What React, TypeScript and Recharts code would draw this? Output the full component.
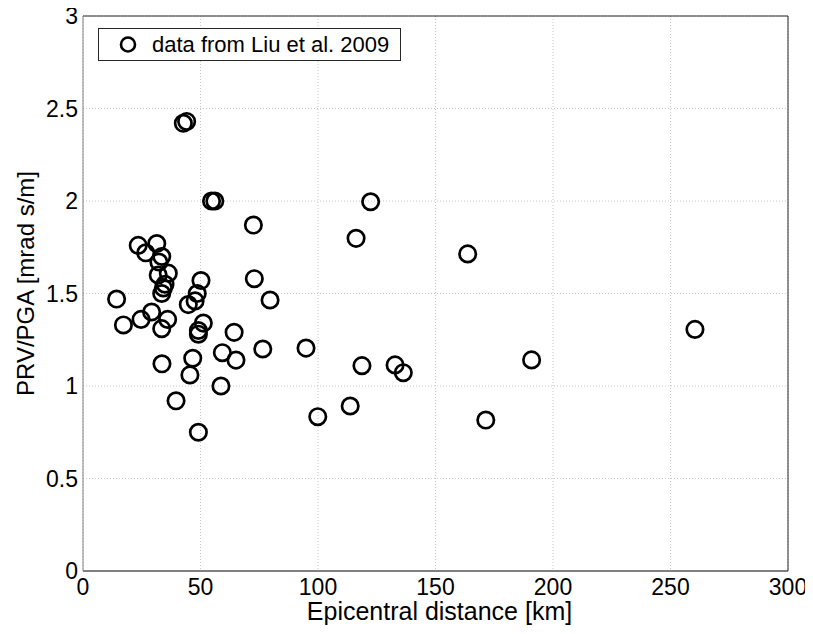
import React from 'react';
import { ScatterChart, Scatter, XAxis, YAxis, CartesianGrid, Legend } from 'recharts';

const distanceKm = [
  14.3, 17.2, 23.5, 24.7, 26.7, 29.2, 31.4, 32.0, 32.3, 33.5,
  33.5, 34.2, 34.9, 36.3, 36.0, 33.5, 33.6, 39.6, 42.7, 44.1,
  44.8, 45.5, 46.7, 47.7, 48.6, 49.1, 49.1, 49.1, 50.2, 51.2,
  54.7, 56.1, 58.7, 59.3, 64.3, 65.1, 72.5, 72.9, 76.5, 79.6,
  94.9, 99.9, 113.7, 116.2, 118.7, 122.4, 132.8, 136.3, 163.7, 171.4,
  190.9, 260.4,
];
const prvPga = [
  1.47, 1.33, 1.76, 1.36, 1.72, 1.40, 1.77, 1.60, 1.67, 1.70,
  1.50, 1.53, 1.55, 1.61, 1.36, 1.31, 1.12, 0.92, 2.42, 2.43,
  1.44, 1.06, 1.15, 1.46, 1.50, 1.30, 1.28, 0.75, 1.57, 1.34,
  2.00, 2.00, 1.00, 1.18, 1.29, 1.14, 1.87, 1.58, 1.20, 1.465,
  1.205, 0.834, 0.892, 1.798, 1.11, 1.996, 1.114, 1.072, 1.714, 0.816,
  1.141, 1.306,
];
const xTicks = [0, 50, 100, 150, 200, 250, 300];
const yTicks = [0, 0.5, 1, 1.5, 2, 2.5, 3];
const seriesName = 'data from Liu et al. 2009';
const xLabel = 'Epicentral distance [km]';
const yLabel = 'PRV/PGA [mrad s/m]';

const data = distanceKm.map((d, i) => ({ x: d, y: prvPga[i] }));

const FONT = '"Liberation Sans", Arial, Helvetica, sans-serif';
const DARK = '#262626';
const GRAY = '#808080';

const Ring = (props: any) => {
  const { cx, cy } = props;
  if (cx == null || cy == null) return <g />;
  return <circle cx={cx} cy={cy} r={8.2} fill="none" stroke="#000" strokeWidth={2.7} />;
};

const Empty = () => <g />;

const XTick = (props: any) => {
  const { x, y, payload } = props;
  return (
    <text x={x} y={y} textAnchor="middle" dominantBaseline="hanging" fontSize={23} fontFamily={FONT} fill="#000">
      {payload.value}
    </text>
  );
};

const YTick = (props: any) => {
  const { x, y, payload } = props;
  return (
    <text x={x} y={y} textAnchor="end" dominantBaseline="central" fontSize={23} fontFamily={FONT} fill="#000">
      {payload.value}
    </text>
  );
};

const LegendBox = () => (
  <div
    style={{
      boxSizing: 'border-box',
      width: 303,
      height: 33,
      border: `1px solid ${DARK}`,
      background: '#fff',
      display: 'flex',
      alignItems: 'center',
      fontFamily: FONT,
      fontSize: 22,
      color: '#000',
      whiteSpace: 'nowrap',
    }}
  >
    <svg width={53} height={31} style={{ display: 'block', flex: 'none' }}>
      <circle cx={29} cy={15.5} r={7} fill="none" stroke="#000" strokeWidth={2.6} />
    </svg>
    <span>{seriesName}</span>
  </div>
);

export default function App() {
  return (
    <div style={{ margin: -8, width: 813, height: 634 }}>
      <ScatterChart width={813} height={634} margin={{ top: 16, right: 25, bottom: 13, left: 13 }}>
        <CartesianGrid xAxisId="b" yAxisId="l" stroke="#c8c8c8" strokeDasharray="1 2" />
        <XAxis
          xAxisId="b"
          type="number"
          dataKey="x"
          domain={[0, 300]}
          ticks={xTicks}
          orientation="bottom"
          height={50}
          tickLine={false}
          tickSize={0}
          tickMargin={7}
          axisLine={{ stroke: GRAY, strokeWidth: 2 }}
          tick={<XTick />}
          label={{
            content: (p: any) => {
              const vb = p.viewBox;
              return (
                <text x={vb.x + vb.width / 2 + 4} y={vb.y + 49} textAnchor="middle" fontSize={25} fontFamily={FONT} fill="#000">
                  {xLabel}
                </text>
              );
            },
          }}
        />
        <XAxis xAxisId="bm" type="number" domain={[0, 300]} ticks={xTicks} orientation="bottom" mirror axisLine={false} tickSize={7} tickLine={{ stroke: DARK }} tick={Empty} />
        <XAxis xAxisId="t" type="number" domain={[0, 300]} ticks={xTicks} orientation="top" mirror axisLine={{ stroke: DARK }} tickSize={7} tickLine={{ stroke: DARK }} tick={Empty} />
        <YAxis
          yAxisId="l"
          type="number"
          dataKey="y"
          domain={[0, 3]}
          ticks={yTicks}
          orientation="left"
          width={70}
          tickLine={false}
          tickSize={0}
          tickMargin={5}
          axisLine={{ stroke: GRAY, strokeWidth: 1 }}
          tick={<YTick />}
          label={{
            content: (p: any) => {
              const vb = p.viewBox;
              const cx = vb.x + 12;
              const cy = vb.y + vb.height / 2 - 10;
              return (
                <text x={cx} y={cy} transform={`rotate(-90 ${cx} ${cy})`} textAnchor="middle" dominantBaseline="central" fontSize={24} fontFamily={FONT} fill="#000">
                  {yLabel}
                </text>
              );
            },
          }}
        />
        <YAxis yAxisId="lm" type="number" domain={[0, 3]} ticks={yTicks} orientation="left" mirror axisLine={false} tickSize={7} tickLine={{ stroke: DARK }} tick={Empty} />
        <YAxis yAxisId="r" type="number" domain={[0, 3]} ticks={yTicks} orientation="right" mirror axisLine={{ stroke: DARK }} tickSize={7} tickLine={{ stroke: DARK }} tick={Empty} />
        <Legend
          layout="vertical"
          align="center"
          verticalAlign="middle"
          content={<LegendBox />}
          wrapperStyle={{ left: 98, top: 28, width: 303, height: 33 }}
        />
        <Scatter
          name={seriesName}
          data={data}
          xAxisId="b"
          yAxisId="l"
          shape={Ring}
          isAnimationActive={false}
        />
      </ScatterChart>
    </div>
  );
}
